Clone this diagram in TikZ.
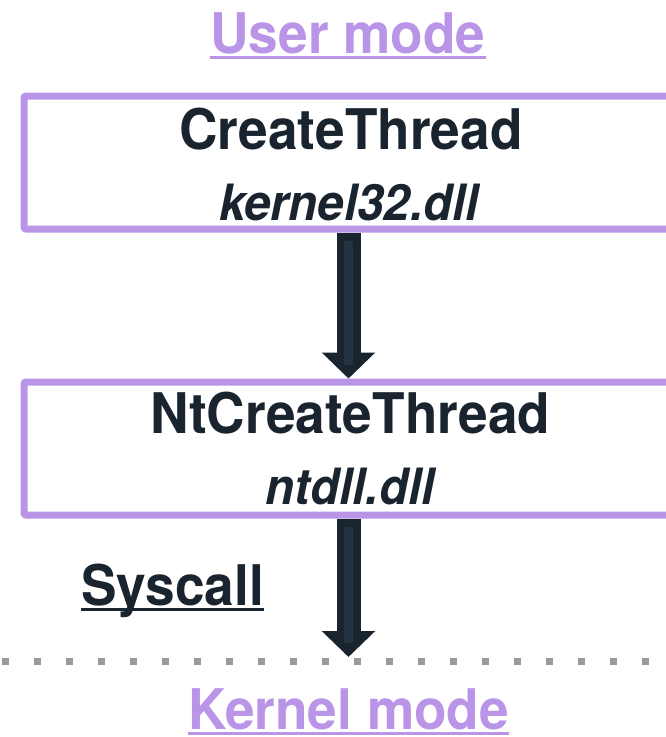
\documentclass[tikz,border=0pt]{standalone}
\usepackage{fontspec}
\setmainfont{TeX Gyre Heros}[FakeStretch=0.95]
\usetikzlibrary{arrows.meta}
\definecolor{lilac}{RGB}{186,148,230}
\definecolor{ink}{RGB}{25,36,46}
\definecolor{inkhi}{RGB}{36,51,65}
\definecolor{dotgray}{RGB}{155,155,155}
\begin{document}
\begin{tikzpicture}[x=1pt,y=-1pt,
  modebox/.style={draw=lilac, line width=7pt, fill=white, rounded corners=2pt,
    minimum width=649pt, minimum height=133pt, inner sep=0pt},
  fname/.style={font=\fontsize{56}{60}\selectfont\bfseries, text=ink, inner sep=0pt, anchor=base},
  dllname/.style={font=\fontsize{50}{54}\selectfont\bfseries\itshape, text=ink, inner sep=0pt, anchor=base},
  modename/.style={font=\fontsize{56}{60}\selectfont\bfseries, text=lilac, inner sep=0pt, anchor=base},
  uline/.style={line width=3pt},
  bigarrow/.style={draw=ink, line width=24pt, -{Triangle[width=52pt,length=26pt]}},
  stripe/.style={draw=inkhi, line width=9pt, shorten <=8pt, shorten >=14pt},
  dotrule/.style={draw=dotgray, line width=7pt, dash pattern=on 7pt off 25pt}]
\useasboundingbox (0,0) rectangle (666,737);
\fill[white] (0,0) rectangle (666,737);

% user/kernel boundary
\coordinate (dl) at (2,661);
\coordinate (dr) at (666,661);
\draw[dotrule] (dl) -- (dr);

% call boxes
\node[modebox] (ct) at (348.5,162.5) {};
\node[modebox] (nt) at (348.5,448.5) {};

% labels
\node[modename] (um) at (348,53) {User mode};
\draw[uline, lilac] ([yshift=-4pt]um.base west) -- ([yshift=-4pt]um.base east);
\node[fname] (ctn) at (351,149) {CreateThread};
\node[dllname] (ctd) at (349,220) {kernel32.dll};
\node[fname] (ntn) at (350.5,433) {NtCreateThread};
\node[dllname] (ntd) at (350,504) {ntdll.dll};
\node[fname] (sc) at (172.5,605) {Syscall};
\draw[uline, ink] ([yshift=-4pt]sc.base west) -- ([yshift=-4pt]sc.base east);
\node[modename] (km) at (348.5,729) {Kernel mode};
\draw[uline, lilac] ([yshift=-4pt]km.base west) -- ([yshift=-4pt]km.base east);

% call flow
\coordinate (t2) at (348.5,657);
\draw[bigarrow] (ct.south) -- (nt.north);
\draw[stripe] (ct.south) -- (nt.north);
\draw[bigarrow] (nt.south) -- (t2);
\draw[stripe] (nt.south) -- (t2);
\end{tikzpicture}
\end{document}
